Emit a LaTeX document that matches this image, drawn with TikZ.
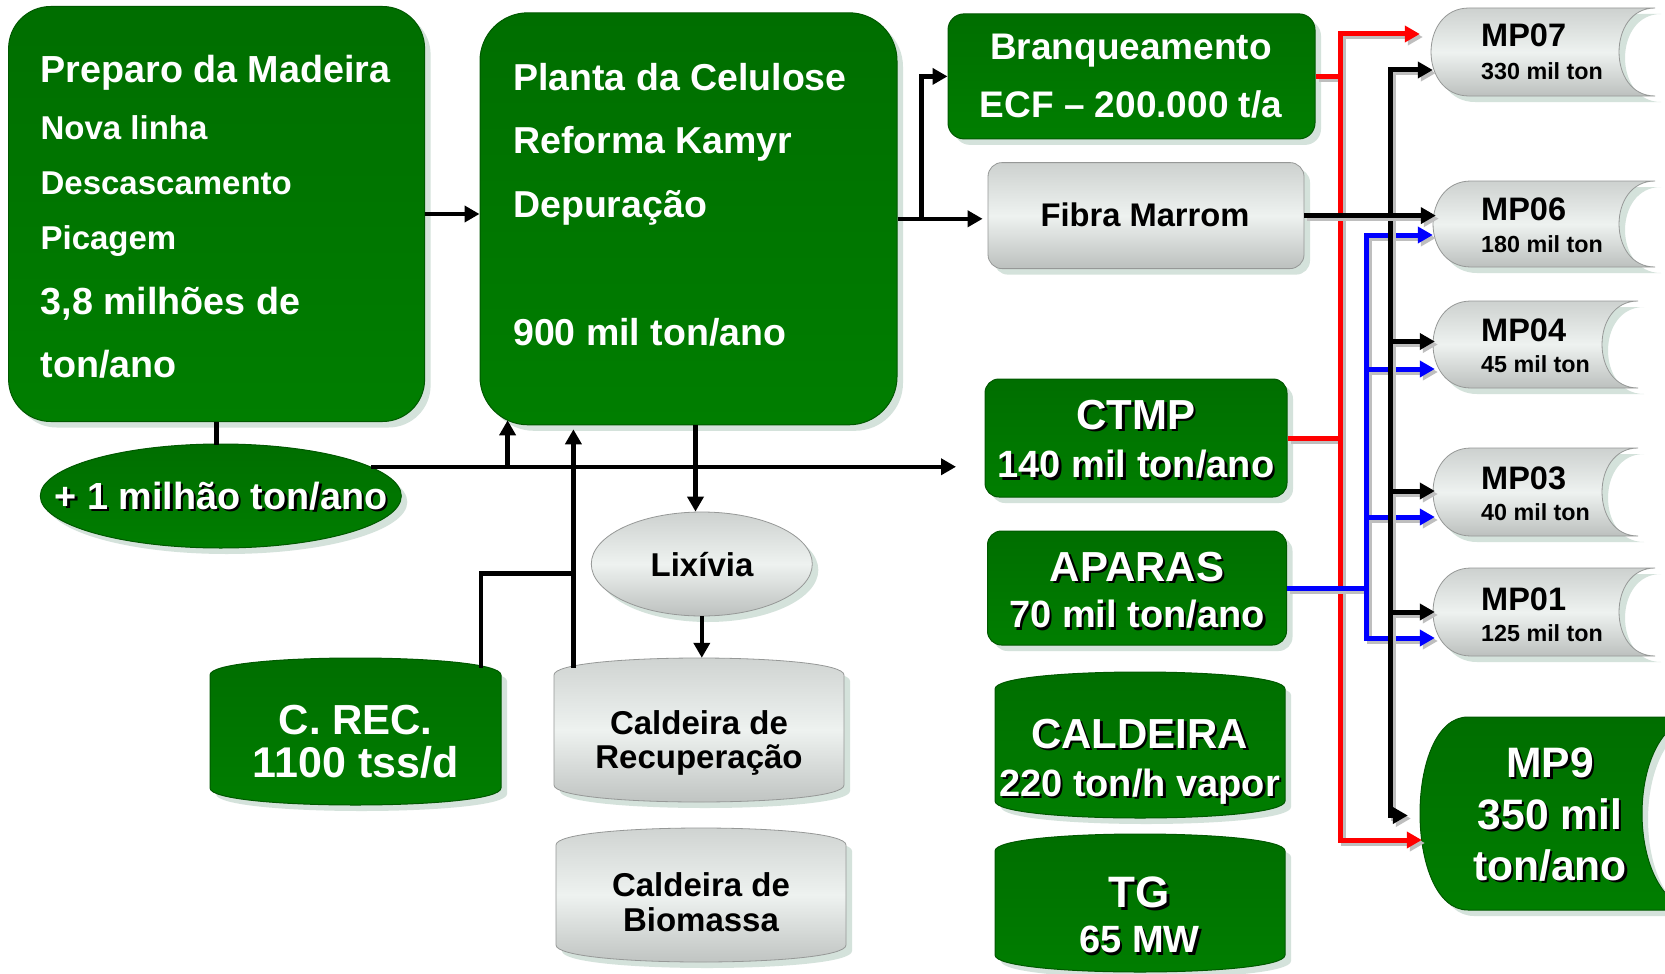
\documentclass[tikz,border=0pt]{standalone}
\usepackage{fontspec}
\setmainfont{Liberation Sans}
\usetikzlibrary{arrows.meta,shadows,calc,shapes.geometric}
\definecolor{gdark}{RGB}{0,110,0}
\definecolor{gbright}{RGB}{0,126,0}
\definecolor{gedge}{RGB}{0,88,0}
\definecolor{shadowc}{RGB}{212,226,219}
\definecolor{graytop}{RGB}{205,209,207}
\definecolor{graymid}{RGB}{238,242,240}
\definecolor{graybot}{RGB}{188,192,190}
\definecolor{grayedge}{RGB}{150,152,151}
\definecolor{lineshadow}{RGB}{190,190,190}
\definecolor{myred}{RGB}{255,0,0}
\definecolor{myblue}{RGB}{0,0,255}
\newcommand\fsz[1]{\fontsize{#1}{#1}\selectfont}
\newcommand\shtxt[1]{\leavevmode\rlap{\hspace{2.5pt}\raisebox{-2.5pt}{\color{black}#1}}#1}
\newcommand\cylshape[5]{%
  \begin{scope}[shift={(6,6)}]
  \path[fill=shadowc] (#1,#3+17) .. controls (#1,#3-5.67) and (#2,#3-5.67) .. (#2,#3+17) -- (#2,#4-17) .. controls (#2,#4+5.67) and (#1,#4+5.67) .. (#1,#4-17) -- cycle;
  \end{scope}
  \path[#5] (#1,#3+17) .. controls (#1,#3-5.67) and (#2,#3-5.67) .. (#2,#3+17) -- (#2,#4-17) .. controls (#2,#4+5.67) and (#1,#4+5.67) .. (#1,#4-17) -- cycle;
}
\newcommand\mpshape[7]{%
  \begin{scope}[shift={(6,6)}]
  \path[fill=shadowc] (#1+#5,#3) -- (#2,#3) .. controls (#2-1.333*#6,#3) and (#2-1.333*#6,#4) .. (#2,#4) -- (#1+#5,#4) .. controls (#1+#5-1.333*#5,#4) and (#1+#5-1.333*#5,#3) .. (#1+#5,#3) -- cycle;
  \end{scope}
  \path[#7] (#1+#5,#3) -- (#2,#3) .. controls (#2-1.333*#6,#3) and (#2-1.333*#6,#4) .. (#2,#4) -- (#1+#5,#4) .. controls (#1+#5-1.333*#5,#4) and (#1+#5-1.333*#5,#3) .. (#1+#5,#3) -- cycle;
}
\begin{document}
\begin{tikzpicture}[x=1pt,y=-1pt,
  greenbox/.style={draw=gedge, line width=1pt, top color=gdark, bottom color=gbright, inner sep=0pt,
    drop shadow={shadow xshift=6pt, shadow yshift=-6pt, fill=shadowc, opacity=1}},
  graybox/.style={draw=grayedge, line width=0.8pt, top color=graytop, bottom color=graybot, middle color=graymid, inner sep=0pt,
    drop shadow={shadow xshift=6pt, shadow yshift=-6pt, fill=shadowc, opacity=1}},
  gpath/.style={draw=gedge, line width=1pt, top color=gdark, bottom color=gbright},
  gypath/.style={draw=grayedge, line width=0.8pt, top color=graytop, bottom color=graybot, middle color=graymid},
  holder/.style={inner sep=0pt},
  wt/.style={text=white, inner sep=0pt},
  bt/.style={text=black, inner sep=0pt},
  conn/.style={line width=4.5pt},
  arr/.style={-{Triangle[length=15pt,width=16pt]}},
  arrb/.style={{Triangle[length=15pt,width=16pt]}-{Triangle[length=15pt,width=16pt]}},
  rarr/.style={-{Triangle[length=15pt,width=16pt]}},
  rconn/.style={line width=5pt, preaction={draw=lineshadow, line width=5pt, transform canvas={shift={(3pt,-3pt)}}}},
]
\fill[white] (0,0) rectangle (1665,974);
\useasboundingbox (0,0) rectangle (1665,974);

% ---------- main boxes ----------
\node[greenbox, rounded corners=42pt, minimum width=416pt, minimum height=415pt] (prep) at (216.6,214) {};
\node[wt, font=\bfseries\fsz{37.7}, anchor=base west] (prepA) at (40.4,82.6) {Preparo da Madeira};
\node[wt, font=\bfseries\fsz{33}, anchor=base west] (prepB) at (40.4,139) {Nova linha};
\node[wt, font=\bfseries\fsz{33}, anchor=base west] (prepC) at (40.4,194.5) {Descascamento};
\node[wt, font=\bfseries\fsz{33}, anchor=base west] (prepD) at (40.4,249.8) {Picagem};
\node[wt, font=\bfseries\fsz{37.7}, anchor=base west] (prepE) at (40.4,314) {3,8 milhões de};
\node[wt, font=\bfseries\fsz{37.7}, anchor=base west] (prepF) at (40.4,377.6) {ton/ano};

\node[greenbox, rounded corners=48pt, minimum width=417pt, minimum height=412pt] (plan) at (688.5,218.8) {};
\node[wt, font=\bfseries\fsz{37.5}, anchor=base west] (planA) at (513,90) {Planta da Celulose};
\node[wt, font=\bfseries\fsz{37.5}, anchor=base west] (planB) at (513,153.5) {Reforma Kamyr};
\node[wt, font=\bfseries\fsz{37.5}, anchor=base west] (planC) at (513,217.5) {Depuração};
\node[wt, font=\bfseries\fsz{37.5}, anchor=base west] (planD) at (513,345.5) {900 mil ton/ano};

\node[greenbox, rounded corners=16pt, minimum width=367pt, minimum height=125pt] (branq) at (1131.5,76.4) {};
\node[wt, font=\bfseries\fsz{37}, anchor=base] (branqA) at (1131,59.7) {Branqueamento};
\node[wt, font=\bfseries\fsz{37}, anchor=base] (branqB) at (1131,117) {ECF – 200.000 t/a};

\node[graybox, rounded corners=14pt, minimum width=316pt, minimum height=106pt] (fib) at (1146,215.6) {};
\node[bt, font=\bfseries\fsz{32.7}, anchor=base] (fibA) at (1145,226.3) {Fibra Marrom};

\node[greenbox, rounded corners=14pt, minimum width=302pt, minimum height=118pt] (ctmp) at (1136,438) {};
\node[wt, font=\bfseries\fsz{42}, anchor=base] (ctmpA) at (1136,429) {\shtxt{CTMP}};
\node[wt, font=\bfseries\fsz{38}, anchor=base] (ctmpB) at (1136,477.7) {\shtxt{140 mil ton/ano}};

\node[greenbox, rounded corners=14pt, minimum width=299pt, minimum height=114pt] (apar) at (1137,588) {};
\node[wt, font=\bfseries\fsz{42}, anchor=base] (aparA) at (1137,581) {\shtxt{APARAS}};
\node[wt, font=\bfseries\fsz{38}, anchor=base] (aparB) at (1137,627.7) {\shtxt{70 mil ton/ano}};

\cylshape{995}{1285}{672}{818}{gpath}
\node[holder, minimum width=290pt, minimum height=146pt] (cald) at (1140,745) {};
\node[wt, font=\bfseries\fsz{42}, anchor=base] (caldA) at (1139.5,748) {\shtxt{CALDEIRA}};
\node[wt, font=\bfseries\fsz{38}, anchor=base] (caldB) at (1139.5,796.3) {\shtxt{220 ton/h vapor}};

\cylshape{995}{1285}{834}{972}{gpath}
\node[holder, minimum width=290pt, minimum height=138pt] (tg) at (1140,903) {};
\node[wt, font=\bfseries\fsz{44}, anchor=base] (tgA) at (1139.5,907.8) {\shtxt{TG}};
\node[wt, font=\bfseries\fsz{38}, anchor=base] (tgB) at (1139.5,952.7) {\shtxt{65 MW}};

\node[ellipse, greenbox, minimum width=361pt, minimum height=104pt] (mil) at (220.8,496) {};
\node[wt, font=\bfseries\fsz{37.8}, anchor=base] (milA) at (221,509) {\shtxt{+ 1 milhão ton/ano}};

\node[ellipse, graybox, minimum width=221pt, minimum height=104pt] (lix) at (701.8,564) {};
\node[bt, font=\bfseries\fsz{33}, anchor=base] (lixA) at (702,576) {Lixívia};

\cylshape{210}{501}{658}{805}{gpath}
\node[holder, minimum width=291pt, minimum height=147pt] (crec) at (355.5,731.5) {};
\node[wt, font=\bfseries\fsz{42}, anchor=base] (crecA) at (355.7,734) {C. REC.};
\node[wt, font=\bfseries\fsz{43}, anchor=base] (crecB) at (355.7,777) {1100 tss/d};

\cylshape{554}{844}{658}{802}{gypath}
\node[holder, minimum width=290pt, minimum height=144pt] (crc) at (699,730) {};
\node[bt, font=\bfseries\fsz{33}, anchor=base] (crcA) at (699,734) {Caldeira de};
\node[bt, font=\bfseries\fsz{33}, anchor=base] (crcB) at (699,768) {Recuperação};

\cylshape{556}{846}{828}{962}{gypath}
\node[holder, minimum width=290pt, minimum height=134pt] (bio) at (701,895) {};
\node[bt, font=\bfseries\fsz{33}, anchor=base] (bioA) at (701,896.5) {Caldeira de};
\node[bt, font=\bfseries\fsz{33}, anchor=base] (bioB) at (701,931.5) {Biomassa};

% ---------- MP machines ----------
\mpshape{1431}{1655}{8}{96}{38}{36}{gypath}
\node[holder, minimum width=224pt, minimum height=88pt] (mp07) at (1543,52) {};
\node[bt, font=\bfseries\fsz{32.5}, anchor=base west] (mp07A) at (1481,46.7) {MP07};
\node[bt, font=\bfseries\fsz{23.3}, anchor=base west] (mp07B) at (1481,79.4) {330 mil ton};

\mpshape{1433}{1655}{181}{267}{38}{36}{gypath}
\node[holder, minimum width=222pt, minimum height=86pt] (mp06) at (1544,224) {};
\node[bt, font=\bfseries\fsz{32.5}, anchor=base west] (mp06A) at (1481,220.7) {MP06};
\node[bt, font=\bfseries\fsz{23.3}, anchor=base west] (mp06B) at (1481,252.4) {180 mil ton};

\mpshape{1433}{1638}{301}{388}{38}{36}{gypath}
\node[holder, minimum width=205pt, minimum height=87pt] (mp04) at (1535.5,344.5) {};
\node[bt, font=\bfseries\fsz{32.5}, anchor=base west] (mp04A) at (1481,341.7) {MP04};
\node[bt, font=\bfseries\fsz{23.3}, anchor=base west] (mp04B) at (1481,372.4) {45 mil ton};

\mpshape{1433}{1638}{448}{536}{38}{36}{gypath}
\node[holder, minimum width=205pt, minimum height=88pt] (mp03) at (1535.5,492) {};
\node[bt, font=\bfseries\fsz{32.5}, anchor=base west] (mp03A) at (1481,489.7) {MP03};
\node[bt, font=\bfseries\fsz{23.3}, anchor=base west] (mp03B) at (1481,520.4) {40 mil ton};

\mpshape{1433}{1655}{568}{656}{38}{36}{gypath}
\node[holder, minimum width=222pt, minimum height=88pt] (mp01) at (1544,612) {};
\node[bt, font=\bfseries\fsz{32.5}, anchor=base west] (mp01A) at (1481,610.7) {MP01};
\node[bt, font=\bfseries\fsz{23.3}, anchor=base west] (mp01B) at (1481,641.4) {125 mil ton};

\mpshape{1420}{1700}{717}{910}{48}{58}{gpath}
\node[holder, minimum width=280pt, minimum height=193pt] (mp9) at (1560,813.5) {};
\node[wt, font=\bfseries\fsz{42.6}, anchor=base] (mp9A) at (1550,777) {\shtxt{MP9}};
\node[wt, font=\bfseries\fsz{42.6}, anchor=base] (mp9B) at (1550,829) {\shtxt{350 mil}};
\node[wt, font=\bfseries\fsz{42.6}, anchor=base] (mp9C) at (1550,880) {\shtxt{ton/ano}};

% ---------- coordinates ----------
\coordinate (ctin) at (956,467);
\coordinate (up1) at (507.6,467);
\coordinate (k1) at (481,573.4);
\coordinate (j1) at (573.4,573.4);
\coordinate (c1) at (695.5,0);
\coordinate (b1) at (921.7,0);
\coordinate (redbus) at (1340,0);
\coordinate (blubus) at (1366,0);
\coordinate (blkbus) at (1390,0);

% ---------- connectors ----------
\draw[conn,arr] (prep.east) -- (prep.east -| plan.west);
\draw[conn] (prep.south) -- ($(prep.south |- mil.north)+(0,1)$);
\draw[conn,arr] (mil.11) -- (mil.11 -| ctin);
\draw[conn,arr] (up1) -- ($(up1 |- plan.south)+(0,-5)$);
\draw[conn] ($(k1 |- crec.north)+(0,10)$) -- (k1) -- (j1);
\draw[conn,arr] ($(j1 |- crc.north)+(0,10)$) -- ($(j1 |- plan.south)+(0,4)$);
\draw[conn,arr] (plan.south -| c1) -- (lix.north -| c1);
\draw[conn,arr] (lix.south) -- (lix.south |- crc.north);
\draw[conn,arr] (plan.east) -- ($(plan.east -| fib.west)+(-5,0)$);
\draw[conn,arr] (plan.east -| b1) |- (branq.west);

% red
\draw[rconn,myred] (branq.east) -- (branq.east -| redbus);
\draw[rconn,myred] (ctmp.east) -- (ctmp.east -| redbus);
\draw[rconn,myred,arrb] ($(mp07.west)+(-11,-18)$) -| ($(redbus |- mp9.west)+(0,26.5)$) -- ($(mp9.west)+(2,26.5)$);
% blue
\draw[rconn,myblue] (apar.east) -- (apar.east -| blubus);
\draw[rconn,myblue,arrb] ($(mp06.west)+(0,11)$) -| ($(blubus |- mp01.west)+(0,26)$) -- ($(mp01.west)+(2,26)$);
\draw[rconn,myblue,rarr] ($(blubus |- mp04.west)+(0,24.5)$) -- ($(mp04.west)+(2,24.5)$);
\draw[rconn,myblue,rarr] ($(blubus |- mp03.west)+(0,25)$) -- ($(mp03.west)+(2,25)$);
% black
\draw[rconn,black,arrb] ($(mp07.west)+(2,18)$) -| ($(blkbus |- mp9.west)+(0,2)$) -- ($(mp9.west)+(-12,2)$);
\draw[rconn,black,rarr] ($(blkbus |- mp04.west)+(0,-3)$) -- ($(mp04.west)+(2,-3)$);
\draw[rconn,black,rarr] ($(blkbus |- mp03.west)+(0,-1)$) -- ($(mp03.west)+(2,-1)$);
\draw[rconn,black,rarr] (blkbus |- mp01.west) -- ($(mp01.west)+(2,0)$);
\draw[rconn,black,rarr] (fib.east) -- ($(fib.east -| mp06.west)+(3,0)$);
\end{tikzpicture}
\end{document}
